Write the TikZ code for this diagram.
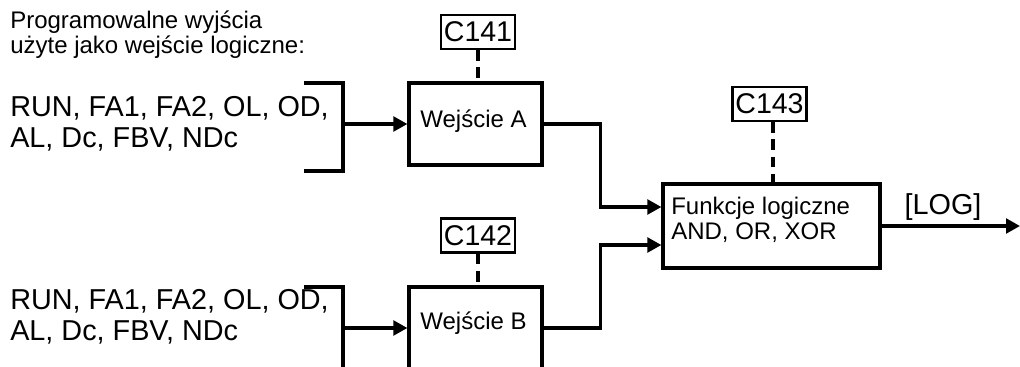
\documentclass[tikz,border=0pt]{standalone}
\usepackage{fontspec}
\setmainfont{Liberation Sans}
\usetikzlibrary{arrows.meta, calc}

\begin{document}
\begin{tikzpicture}[x=0.75pt, y=-0.75pt,
    myarrow/.style={-{Triangle[length=10.5pt, width=11pt]}, line width=2.4pt},
    bracket/.style={line width=2.4pt},
    block/.style={draw, line width=2.4pt, inner sep=0pt},
    param/.style={draw, line width=1.6pt, inner sep=0pt,
        minimum width=55.5pt, minimum height=25.5pt,
        font=\fontsize{21.4}{23}\selectfont},
    link/.style={line width=2.6pt, dash pattern=on 8pt off 5pt},
    smalltext/.style={font=\fontsize{18}{18.75}\selectfont, align=left, inner sep=0pt},
    bigtext/.style={font=\fontsize{21.6}{23.25}\selectfont, align=left, inner sep=0pt},
]
\useasboundingbox (0,0) rectangle (1020,367);

% ===================== SOURCES =====================
\node[smalltext, anchor=north west] (title) at (10,10.5)
    {Programowalne wyjścia\\użyte jako wejście logiczne:};
\node[bigtext, anchor=north west] (srcA) at (10,96)
    {RUN, FA1, FA2, OL, OD,\\AL, Dc, FBV, NDc};
\node[bigtext, anchor=north west] (srcB) at (10,289)
    {RUN, FA1, FA2, OL, OD,\\AL, Dc, FBV, NDc};

% brackets
\draw[bracket] (304,83) -- (343,83) -- (343,171) -- (304,171);
\coordinate (brA) at (343,124);
\draw[bracket] (304,287) -- (343,287) -- (343,380);
\coordinate (brB) at (343,328);

% ===================== INPUT BLOCKS =====================
\node[block, minimum width=99.75pt, minimum height=61.5pt] (wejA) at (475.5,124) {};
\node[smalltext] at (473.5,121) {Wejście A};
\node[block, minimum width=99.75pt, minimum height=61.5pt] (wejB) at (475.5,328) {};
\node[smalltext] at (473.5,323) {Wejście B};

% parameters
\node[param] (c141) at (478,32) {C141};
\node[param] (c142) at (478,235.5) {C142};

% ===================== LOGIC BLOCK =====================
\node[block, minimum width=162.75pt, minimum height=63pt] (logic) at (771.5,226) {};
\node[smalltext, anchor=west] at (671,219.5) {Funkcje logiczne\\AND, OR, XOR};
\node[param] (c143) at (769.5,104) {C143};

% ===================== CONNECTIONS =====================
\draw[myarrow] (brA) -- (wejA.west);
\draw[myarrow] (brB) -- (wejB.west);

\draw[link] (c141.south) -- (c141.south |- wejA.north);
\draw[link] (c142.south) -- (c142.south |- wejB.north);
\draw[link] ([xshift=2.5pt]c143.south) -- ([xshift=2.5pt]c143.south |- logic.north);

\draw[myarrow] (wejA.east) -- ++(57,0) |- ([yshift=14.25pt]logic.west);
\draw[myarrow] (wejB.east) -- ++(57,0) |- ([yshift=-14.25pt]logic.west);

% output
\coordinate (out) at (1020,226);
\draw[myarrow] (logic.east) -- (out);
\node[bigtext] at (943,207) {[LOG]};

\end{tikzpicture}
\end{document}
